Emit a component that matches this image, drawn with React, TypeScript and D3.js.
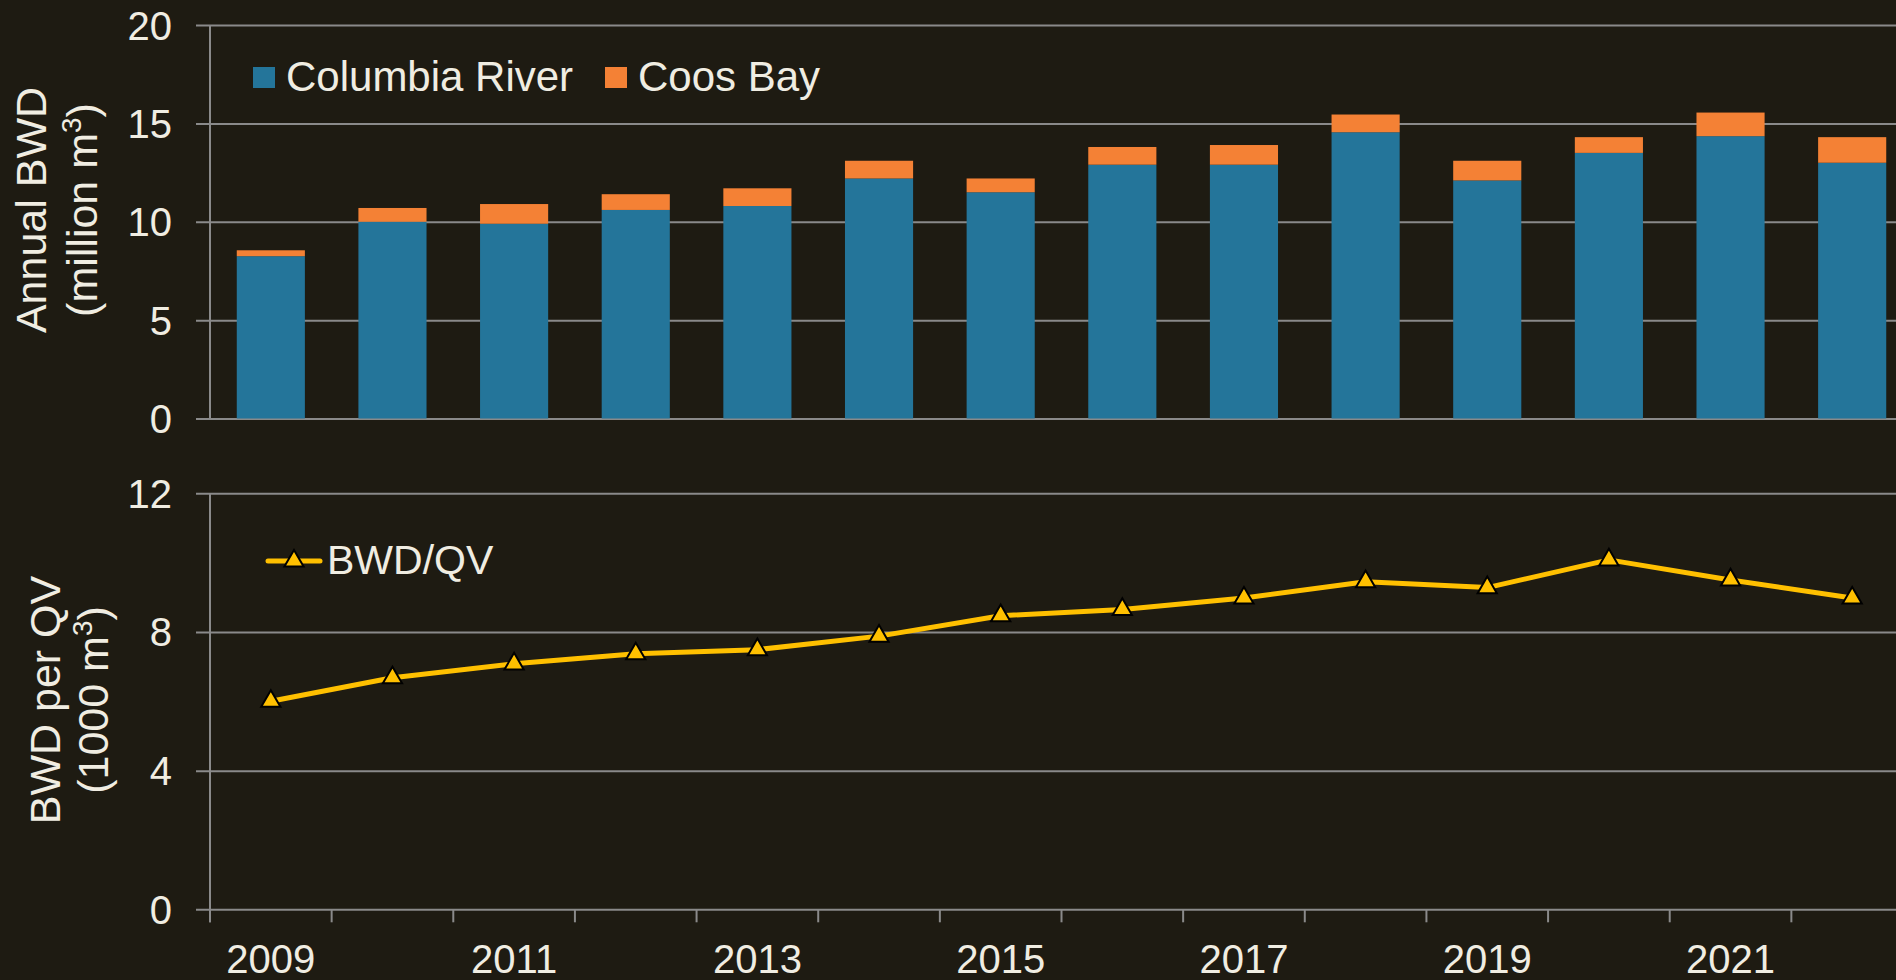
import React, { useEffect, useRef } from 'react';
import * as d3 from 'd3';

// chart values
const years = ['2009', '2010', '2011', '2012', '2013', '2014', '2015', '2016', '2017', '2018', '2019', '2020', '2021', '2022'];
const columbiaRiver = [8.25, 10.0, 9.9, 10.6, 10.8, 12.2, 11.5, 12.9, 12.9, 14.55, 12.1, 13.5, 14.35, 13.0];
const coosBay = [0.3, 0.7, 1.0, 0.8, 0.9, 0.9, 0.7, 0.9, 1.0, 0.9, 1.0, 0.8, 1.2, 1.3];
const bwdPerQv = [6.0, 6.68, 7.08, 7.37, 7.49, 7.88, 8.47, 8.65, 8.98, 9.45, 9.28, 10.08, 9.5, 8.98];
const topTicks = [0, 5, 10, 15, 20];
const bottomTicks = [0, 4, 8, 12];
const xLabels = ['2009', '2011', '2013', '2015', '2017', '2019', '2021'];

const BG = '#1e1b12';
const GRID = '#8a8a8a';
const TEXT = '#f0ede2';
const BLUE = '#24759a';
const ORANGE = '#f48135';
const YELLOW = '#ffc000';
const FONT = '"Liberation Sans", Arial, sans-serif';

const draw = (node: SVGSVGElement) => {
    const svg = d3.select(node);
    svg.selectAll('*').remove();

    const left = 210, right = 1913;
    const plotW = right - left;

    const x = d3.scaleBand().domain(years).range([left, right]).paddingInner(0.44).paddingOuter(0.22);
    const yTop = d3.scaleLinear().domain([0, 20]).range([418.5, 25]);
    const yBot = d3.scaleLinear().domain([0, 12]).range([909.3, 493.3]);

    // top y axis + gridlines
    const gTop = svg.append('g')
        .attr('transform', `translate(${left},0)`)
        .call(d3.axisLeft(yTop).tickValues(topTicks).tickSizeInner(-plotW).tickSizeOuter(0).tickPadding(38));
    // bottom y axis + gridlines
    const gBot = svg.append('g')
        .attr('transform', `translate(${left},0)`)
        .call(d3.axisLeft(yBot).tickValues(bottomTicks).tickSizeInner(-plotW).tickSizeOuter(0).tickPadding(38));

    [gTop, gBot].forEach(g => {
        g.select('.domain').remove();
        g.selectAll('.tick line').attr('x1', -14).attr('stroke', GRID).attr('stroke-width', 2);
        g.selectAll('.tick text')
            .attr('fill', TEXT)
            .attr('dy', '0.35em')
            .style('font-family', FONT)
            .style('font-size', '40px');
    });

    // vertical axis lines
    svg.append('line')
        .attr('x1', left).attr('x2', left)
        .attr('y1', yTop(20)).attr('y2', yTop(0))
        .attr('stroke', GRID).attr('stroke-width', 2);
    svg.append('line')
        .attr('x1', left).attr('x2', left)
        .attr('y1', yBot(12)).attr('y2', yBot(0) + 13)
        .attr('stroke', GRID).attr('stroke-width', 2);

    // category boundary ticks under bottom chart
    const bounds = d3.range(years.length + 1).map(i => x.range()[0] + i * x.step());
    svg.append('g').selectAll('line')
        .data(bounds)
        .enter()
        .append('line')
            .attr('x1', d => d).attr('x2', d => d)
            .attr('y1', yBot(0)).attr('y2', yBot(0) + 13)
            .attr('stroke', GRID).attr('stroke-width', 2);

    // x labels (every other year)
    const gX = svg.append('g')
        .attr('transform', `translate(0,${yBot(0)})`)
        .call(d3.axisBottom(x).tickValues(xLabels).tickSize(0).tickPadding(35));
    gX.select('.domain').remove();
    gX.selectAll('.tick text')
        .attr('fill', TEXT)
        .style('font-family', FONT)
        .style('font-size', '40px');

    // stacked bars
    const stackData = years.map((yr, i) => ({ year: yr, columbia: columbiaRiver[i], coos: coosBay[i] }));
    const series = d3.stack<any>().keys(['columbia', 'coos'])(stackData);
    const colors: Record<string, string> = { columbia: BLUE, coos: ORANGE };

    svg.append('g').selectAll('g')
        .data(series)
        .enter()
        .append('g')
            .attr('fill', d => colors[d.key])
        .selectAll('rect')
        .data(d => d)
        .enter()
        .append('rect')
            .attr('x', d => x(d.data.year) as number)
            .attr('width', x.bandwidth())
            .attr('y', d => yTop(d[1]))
            .attr('height', d => yTop(d[0]) - yTop(d[1]));

    // BWD/QV line
    const cx = (i: number) => (x(years[i]) as number) + x.bandwidth() / 2;
    const line = d3.line<number>().x((d, i) => cx(i)).y(d => yBot(d));
    svg.append('path')
        .datum(bwdPerQv)
        .attr('d', line)
        .attr('fill', 'none')
        .attr('stroke', YELLOW)
        .attr('stroke-width', 5)
        .attr('stroke-linejoin', 'round');

    const tri = d3.symbol().type(d3.symbolTriangle).size(160);
    svg.append('g').selectAll('path')
        .data(bwdPerQv)
        .enter()
        .append('path')
            .attr('d', tri)
            .attr('transform', (d, i) => `translate(${cx(i)},${yBot(d)})`)
            .attr('fill', YELLOW)
            .attr('stroke', '#000')
            .attr('stroke-width', 2);

    // top legend
    const lg = svg.append('g').style('font-family', FONT).style('font-size', '42px').attr('fill', TEXT);
    lg.append('rect').attr('x', 253).attr('y', 67).attr('width', 22).attr('height', 21).attr('fill', BLUE);
    lg.append('text').attr('x', 286).attr('y', 91).text('Columbia River');
    lg.append('rect').attr('x', 605).attr('y', 67).attr('width', 22).attr('height', 21).attr('fill', ORANGE);
    lg.append('text').attr('x', 638).attr('y', 91).text('Coos Bay');

    // bottom legend
    const lg2 = svg.append('g');
    lg2.append('line')
        .attr('x1', 268).attr('x2', 320).attr('y1', 561).attr('y2', 561)
        .attr('stroke', YELLOW).attr('stroke-width', 5).attr('stroke-linecap', 'round');
    lg2.append('path')
        .attr('d', tri)
        .attr('transform', 'translate(294,561)')
        .attr('fill', YELLOW).attr('stroke', '#000').attr('stroke-width', 2);
    lg2.append('text')
        .attr('x', 327).attr('y', 574)
        .attr('fill', TEXT)
        .style('font-family', FONT).style('font-size', '41px')
        .text('BWD/QV');

    // y axis titles
    const title = (cy: number, y1: number, y2: number, line1: string, line2: string) => {
        const g = svg.append('g')
            .attr('transform', 'rotate(-90)')
            .attr('fill', TEXT)
            .style('font-family', FONT)
            .style('font-size', '43px')
            .attr('text-anchor', 'middle');
        g.append('text').attr('x', -cy).attr('y', y1).text(line1);
        const t = g.append('text').attr('x', -cy).attr('y', y2);
        t.append('tspan').text(line2);
        t.append('tspan').attr('dy', -16).style('font-size', '28px').text('3');
        t.append('tspan').attr('dy', 16).text(')');
    };
    title(210, 46, 97, 'Annual BWD', '(million m');
    title(700, 60, 108, 'BWD per QV', '(1000 m');
};

const App = () => {
    const ref = useRef<SVGSVGElement>(null);
    useEffect(() => {
        if (ref.current) draw(ref.current);
    }, []);
    return (
        <div style={{ background: BG }}>
            <style>{`body { margin: 0; background: ${BG}; }`}</style>
            <svg ref={ref} width={1896} height={980} style={{ display: 'block', background: BG }} />
        </div>
    );
};

export default App;
